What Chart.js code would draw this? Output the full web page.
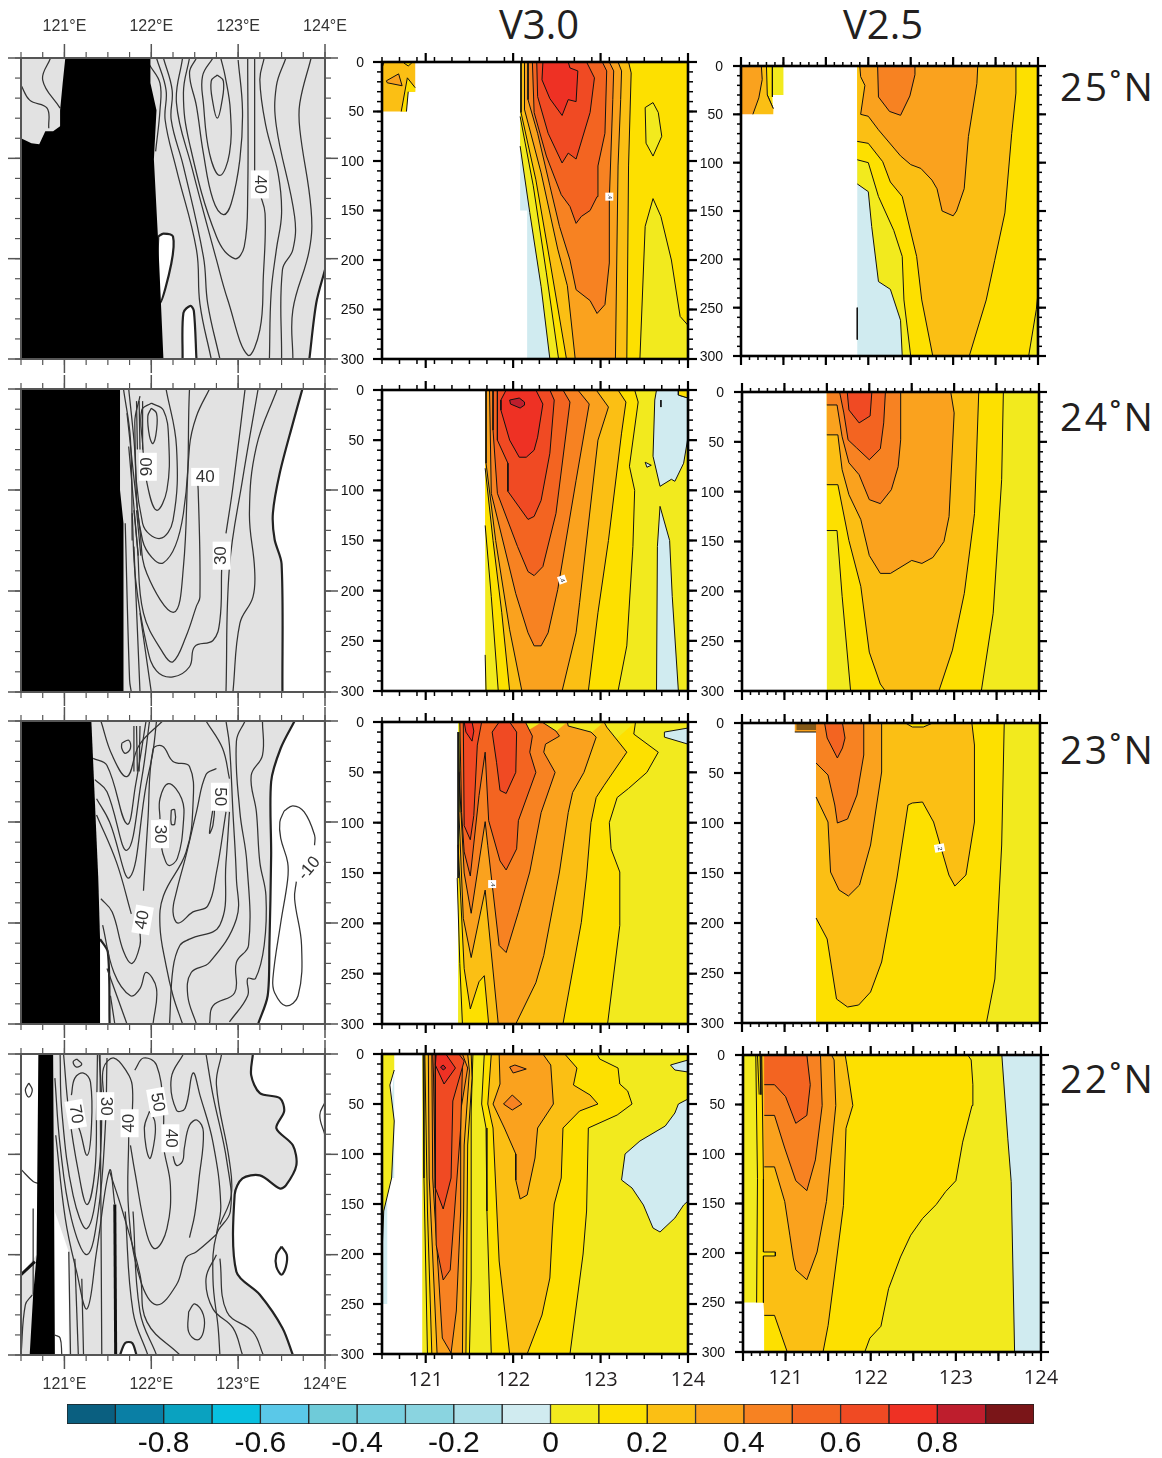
<!DOCTYPE html>
<html><head><meta charset="utf-8">
<script src="https://cdn.jsdelivr.net/npm/chart.js@4"></script>
<style>
html,body{margin:0;padding:0;background:#fff}
#page{position:relative;width:1162px;height:1458px;overflow:hidden;background:#fff}
canvas{position:absolute}
.t{position:absolute;font-family:"Open Sans",sans-serif;color:#231f20;white-space:nowrap;line-height:1}
</style></head><body><div id="page">
<div class="t" style="left:499px;top:4px;font-size:40px">V3.0</div>
<div class="t" style="left:843px;top:4px;font-size:40px">V2.5</div>
<div class="t" style="left:1060px;top:66px;font-size:39px;letter-spacing:2.4px">25˚N</div>
<div class="t" style="left:1060px;top:396px;font-size:39px;letter-spacing:2.4px">24˚N</div>
<div class="t" style="left:1060px;top:729px;font-size:39px;letter-spacing:2.4px">23˚N</div>
<div class="t" style="left:1060px;top:1058px;font-size:39px;letter-spacing:2.4px">22˚N</div>
</div>
<script>
// ---------- categories, ticks ----------
const depthLabels=[0,50,100,150,200,250,300];
const lonLabels=[121,122,123,124];
const colorbarLows=[-1,-.9,-.8,-.7,-.6,-.5,-.4,-.3,-.2,-.1,0,.1,.2,.3,.4,.5,.6,.7,.8,.9];
const colorbarTicks=[-.8,-.6,-.4,-.2,0,.2,.4,.6,.8];
const levelColors=['#0a5f80','#0a7fa5','#0aa2c0','#08c0e0','#5ac8e8','#6fcbd9','#78cfdf','#8ad4e0','#acdfe8','#d0ebf0','#f2ea1e','#fde000','#fbbf14','#faa21e','#f78222','#f36421','#f04a23','#ee3124','#be1e2d','#7a1518'];

// ---------- V3.0 sections: [contour level, lon,depth,...] (null = contour break) ----------
const V30_25N=[
[-.1,[122.08,85,null,122.08,150,null,122.16,150,null,122.16,300,null,124,300,124,0,null,122.08,0]],
[0,[122.08,85,122.19,152,122.32,227,122.42,300,null,124,300,124,0,null,122.08,0]],
[.1,[122.08,55,122.23,125,122.38,213,122.52,300,null,124,300,124,0,null,122.08,0]],
[.2,[122.09,0,122.09,51,122.26,119,122.43,206,122.61,300,null,123.3,300,123.32,105,123.35,11,123.32,0]],
[.3,[122.13,0,122.13,48,122.32,112,122.51,189,122.62,226,122.71,300,null,123.17,300,123.2,105,123.23,38,123.24,9,123.2,0]],
[.4,[122.17,0,122.17,38,122.28,72,122.42,125,122.53,166,122.65,200,122.72,230,122.88,241,122.96,254,123.05,245,123.1,203,123.1,139,123.14,38,123.15,9,123.1,0]],
[.5,[122.22,0,122.24,51,122.38,95,122.55,134,122.65,146,122.72,163,122.78,156,122.88,150,122.96,136,122.97,105,123.05,72,123.07,9,123.02,0]],
[.6,[122.27,0,122.28,35,122.4,72,122.56,102,122.63,92,122.72,98,122.88,51,122.93,16,122.84,0]],
[.7,[122.34,1,122.33,18,122.42,37,122.56,54,122.63,38,122.72,40,122.74,9,122.65,6,122.63,0]],
[0,[123.51,46,123.6,41,123.66,51,123.7,75,123.6,95,123.52,82,123.51,46]],
[0,[123.45,300,123.51,166,123.6,138,123.69,156,123.81,200,123.91,257,124,266,null,124,300]],
[.2,[120.5,0,null,120.88,0,null,120.88,30,null,120.8,30,null,120.78,50,null,120.5,50]],
[.1,[120.72,50,120.79,16,120.88,26,null,120.88,30,null,120.8,30,120.78,50]],
[.1,[120.5,6,120.52,1,null,120.5,0]],
[.1,[120.75,1,120.8,4,120.84,1]],
[.3,[120.55,19,120.69,12,120.73,24,120.56,21,120.55,19]]
];
const V30_24N=[
[0,[121.68,0,null,121.68,300,null,124,300,124,0]],
[.1,[121.68,135,121.75,206,121.83,300,null,123.2,300,123.3,255,123.37,156,123.39,100,123.33,76,123.43,12,123.39,0,null,121.68,0]],
[.2,[121.68,78,121.77,150,121.87,222,121.96,300,null,122.86,300,122.97,222,123.09,150,123.24,43,123.29,12,123.2,0,null,121.68,0]],
[.3,[121.69,0,121.69,73,121.8,150,121.96,239,122.1,300,null,122.56,300,122.72,242,122.76,212,122.97,50,123.09,17,122.95,0]],
[.4,[121.73,0,121.75,103,122.03,203,122.17,242,122.24,255,122.32,255,122.4,242,122.51,199,122.72,90,122.87,14,122.74,0]],
[.5,[121.77,0,121.77,40,121.82,103,122.05,156,122.17,181,122.24,185,122.34,176,122.49,123,122.65,12,122.57,0]],
[.6,[121.82,0,121.82,50,121.94,73,121.94,101,122.17,129,122.24,126,122.32,110,122.42,63,122.47,10,122.42,0]],
[.7,[121.92,0,121.86,10,121.86,20,121.96,50,122.07,67,122.15,67,122.24,60,122.28,47,122.34,14,122.26,0]],
[.8,[121.96,10,122.07,8,122.13,12,122.13,15,122.08,18,121.97,14,121.96,10]],
[-.1,[123.64,0,123.62,10,123.6,66,123.68,96,123.81,89,123.85,91,123.95,73,124,47,null,124,8,123.89,5,123.89,0]],
[-.1,[123.64,300,123.65,156,123.68,116,123.79,150,123.82,206,123.89,300]],
[-.1,[123.51,72,123.58,75,123.53,77,123.51,72]],
[.1,[123.89,0,123.89,5,124,8,124,0]],
[null,[123.69,10,123.69,17]],
[null,[121.68,264,121.69,300]]
];
const V30_23N=[
[0,[121.37,0,null,121.37,300,null,124,300,124,0]],
[-.1,[123.73,10,124,6,null,124,22,123.73,15,123.73,10]],
[.1,[121.36,155,121.39,240,121.42,300,null,123.08,300,123.22,202,123.22,149,123.12,126,123.1,100,123.19,75,123.32,66,123.53,50,123.66,30,123.38,12,123.4,0]],
[.2,[121.37,122,121.44,245,121.51,285,121.61,258,121.67,252,121.72,300,null,122.57,300,122.78,199,122.84,153,122.89,100,122.95,75,123.04,63,123.3,30,123.07,5,123.04,0]],
[.3,[121.38,90,121.43,195,121.52,234,121.68,167,121.83,300,null,122.03,300,122.26,259,122.35,232,122.53,149,122.63,90,122.68,70,122.81,50,122.95,15,122.89,10,122.63,4,122.62,0]],
[.4,[121.38,50,121.44,150,121.52,190,121.68,99,121.71,123,121.84,222,121.92,229,122.06,189,122.19,149,122.32,90,122.48,50,122.35,30,122.37,22,122.53,14,122.49,9,122.33,0]],
[.5,[121.39,0,121.41,90,121.44,129,121.51,153,121.61,73,121.68,30,121.72,98,121.85,138,121.92,147,122.04,126,122.06,98,122.26,50,122.19,30,122.22,14,122.14,0]],
[.6,[121.43,0,121.44,103,121.51,117,121.55,93,121.59,23,121.64,0]],
[.6,[121.84,0,121.76,10,121.81,40,121.85,68,121.92,71,122.03,50,122.04,10,121.96,0]],
[.7,[121.44,0,121.46,10,121.53,19,121.55,9,121.53,0]],
[null,[121.37,10,121.37,155]],
[null,[121.38,10,121.39,90]]
];
const V30_22N=[
[-.1,[120.64,16,null,120.64,124,null,120.56,124,null,120.56,250,null,120.5,250,null,120.5,150]],
[0,[120.5,0,null,120.64,0,null,120.64,16,120.59,31,120.64,67,120.61,124,120.52,157,120.5,200]],
[0,[120.96,0,null,120.96,300,null,124,300,124,0]],
[-.1,[123.28,100,123.45,87,123.74,72,123.85,59,123.89,50,124,45,null,124,147,123.95,151,123.85,164,123.68,178,123.6,174,123.49,151,123.36,134,123.24,126,123.28,100]],
[-.1,[123.8,11,124,6,null,124,18,123.85,16,123.8,11]],
[.1,[120.97,0,120.98,124,121.02,300,null,121.5,300,121.52,225,121.52,57,121.54,0]],
[.2,[120.99,0,121.02,157,121.07,300,null,121.46,300,121.48,91,121.53,24,121.52,0]],
[.3,[121.03,0,121.04,124,121.13,300,null,121.42,300,121.44,91,121.5,17,121.48,0]],
[.4,[121.07,0,121.08,124,121.19,284,121.29,299,121.35,257,121.4,157,121.4,57,121.48,14,121.42,0]],
[.5,[121.08,0,121.09,24,121.12,191,121.2,226,121.28,216,121.4,74,121.42,14,121.34,0]],
[.6,[121.11,0,121.11,134,121.2,155,121.29,124,121.31,47,121.44,7,121.38,0]],
[.7,[121.12,0,121.11,11,121.21,30,121.34,14,121.23,0]],
[.8,[121.17,13,121.2,11,121.23,14,121.2,16,121.17,13]],
[.1,[121.67,0,121.64,50,121.69,74,121.7,157,121.75,300,null,122.65,300,122.8,200,122.84,157,122.86,74,123.19,61,123.36,50,123.31,37,123.22,30,123.2,14,122.99,5,122.96,0]],
[.2,[121.75,0,121.71,50,121.77,74,121.84,207,121.96,300,null,122.16,300,122.33,261,122.42,224,122.45,174,122.47,150,122.55,124,122.57,74,122.76,57,122.97,50,122.88,41,122.69,31,122.73,14,122.59,0]],
[.3,[121.84,0,121.85,30,121.77,50,121.9,74,122.03,100,122.03,126,122.08,145,122.16,141,122.25,104,122.28,74,122.46,50,122.43,11,122.34,0]],
[.4,[121.96,13,122.02,11,122.15,15,122,19,121.96,13]],
[.4,[121.89,50,121.99,41,122.1,50,121.99,56,121.89,50]]
];

// ---------- V2.5 sections ----------
const V25_25N=[
[-.1,[121.87,122,null,121.87,300,null,124,300,124,0,null,121.87,0]],
[0,[121.87,122,122,130,122.04,166,122.12,223,122.26,231,122.38,263,122.4,300,null,124,300,124,0,null,121.87,0]],
[.1,[121.87,97,122,100,122.12,135,122.3,170,122.4,197,122.42,242,122.5,300,null,124,300,124,0,null,121.87,0]],
[0,[123.89,300,123.98,252,124,235,null,124,300]],
[.2,[121.87,78,122,80,122.17,99,122.26,120,122.4,135,122.57,197,122.63,242,122.76,300,null,123.19,300,123.39,242,123.49,201,123.61,152,123.69,70,123.74,28,123.74,0,null,121.87,0]],
[.3,[121.9,0,121.91,11,121.96,20,121.91,50,122,52,122.12,66,122.38,93,122.5,102,122.62,106,122.75,118,122.81,127,122.87,150,123,155,123.04,150,123.13,127,123.18,73,123.28,18,123.29,0]],
[.4,[122.11,0,122.12,32,122.25,47,122.38,51,122.49,31,122.55,9,122.55,0]],
[0,[120.87,0,null,121,0,null,121,30,null,120.87,30]],
[.1,[120.8,0,null,120.87,0,120.87,32,null,120.88,50,null,120.88,44,120.81,30]],
[.2,[120.74,0,null,120.8,0,120.81,30,120.88,44,null,120.88,50,null,120.64,50]],
[.3,[120.74,0,120.75,14,120.71,33,120.64,50,null,120.5,50,null,120.5,0]],
[null,[121.87,250,121.87,283]]
];
const V25_24N=[
[0,[121.5,0,null,121.5,300,null,124,300,124,0]],
[.1,[121.5,139,121.62,139,121.68,205,121.78,300,null,123.32,300,123.46,222,123.56,88,123.58,0,null,121.5,0]],
[.2,[121.5,93,121.63,93,121.76,149,121.9,195,122,261,122.13,293,122.19,300,null,122.82,300,122.98,259,123.12,202,123.24,122,123.29,0,null,121.5,0]],
[.3,[121.5,43,121.63,43,121.68,78,121.76,103,121.9,128,122,164,122.13,182,122.25,182,122.5,169,122.62,172,122.75,166,122.88,150,122.94,125,123,21,122.96,0,null,121.5,0]],
[.4,[121.5,13,121.62,13,121.68,45,121.76,71,121.88,83,122,108,122.13,112,122.26,98,122.34,75,122.37,48,122.37,0,null,121.5,0]],
[.5,[121.65,0,121.7,21,121.75,48,121.85,56,122,68,122.13,57,122.17,31,122.19,0]],
[.6,[121.74,0,121.76,18,121.88,31,122.01,24,122.03,0]]
];
const V25_23N=[
[0,[121.37,0,null,121.37,300,null,124,300,124,0]],
[.1,[121.37,0,null,121.37,300,null,123.37,300,123.47,256,123.55,122,123.58,0]],
[.2,[121.37,195,121.5,216,121.61,276,121.74,284,121.87,282,122.01,269,122.14,239,122.32,155,122.45,82,122.5,80,122.62,79,122.75,99,122.93,152,123,163,123.13,152,123.23,99,123.23,22,123.2,0,null,122.74,0,122.63,4,122.5,4,122.42,0,null,121.37,0]],
[.3,[121.37,74,121.51,99,121.54,149,121.64,167,121.75,173,121.88,162,122.01,122,122.14,49,122.14,0,null,121.37,0]],
[.4,[121.37,40,121.51,52,121.59,82,121.62,100,121.74,96,121.85,72,121.93,32,121.93,0,null,121.37,0]],
[.5,[121.47,0,121.5,15,121.62,35,121.68,25,121.71,15,121.68,0]],
[.3,[121.12,9,121.37,9,null,121.37,0,null,121.12,0]],
[null,[121.14,2,121.37,2]],[null,[121.14,4,121.37,4]],[null,[121.14,6,121.37,6]]
];
const V25_22N=[
[0,[120.5,0,null,120.5,250,null,120.75,250,null,120.75,300,null,124,300,124,0]],
[-.1,[123.54,0,123.61,84,123.65,128,123.69,300,null,124,300,124,0]],
[.1,[120.65,0,120.67,125,120.66,250,null,120.75,250,null,120.75,300,null,121.93,300,121.99,286,122.12,274,122.21,236,122.35,204,122.47,182,122.61,165,122.77,151,122.88,138,123,127,123.08,88,123.19,51,123.2,30,123.18,5,123.14,0]],
[.2,[120.72,0,120.74,125,120.74,199,120.88,199,120.88,203,120.74,203,120.74,250,null,120.75,263,120.87,263,121.02,300,null,121.44,300,121.5,273,121.68,152,121.71,74,121.79,51,121.72,10,121.7,0]],
[.3,[120.75,113,120.87,113,120.99,148,121.05,182,121.09,205,121.12,217,121.25,227,121.37,199,121.48,148,121.59,51,121.57,5,121.54,0,null,120.75,0]],
[.4,[120.75,61,120.87,61,120.99,94,121.12,127,121.25,137,121.35,106,121.43,51,121.41,0,null,120.75,0]],
[.5,[120.75,30,120.87,30,121,42,121.12,69,121.25,61,121.29,30,121.25,0,null,120.75,0]],
[null,[120.67,0,120.69,40]],[null,[120.7,0,120.71,40]]
];

// ---------- observed sections (left column) ----------
const OBS_25N_land=[121.01,0,120.98,25,120.95,52,120.95,68,120.87,73,120.78,73,120.71,86,120.62,85,120.5,80,120.5,300,122.14,300,122.08,184,122.03,101,122.06,52,121.99,25,121.99,0];
const OBS_25N_white=[[122.08,178,122.14,175,122.25,178,122.23,205,122.1,244,122.07,205,122.08,178],[122.36,300,122.37,254,122.45,247,122.49,252,122.52,300],[123.82,300,123.9,244,124,211,null,124,300]];
const OBS_25N_lines=[
[120.5,27,120.6,42,120.8,50,120.82,70],[120.84,0,120.75,22,120.95,50],[121.98,7,122.1,25,122.1,52,122.05,93],
[122.06,0,122.17,32,122.16,62,122.29,111,122.52,191,122.56,245,122.69,300],
[122.14,0,122.24,32,122.23,62,122.37,108,122.6,198,122.65,245,122.79,300],
[122.76,17,122.69,23,122.71,45,122.76,60,122.81,45,122.83,23,122.76,17],
[122.71,0,122.59,18,122.6,45,122.67,95,122.79,117,122.9,95,122.91,52,122.85,18,122.8,0],
[122.52,0,122.44,15,122.52,48,122.6,95,122.71,141,122.83,156,122.92,145,123.02,101,123.05,52,123,2],
[122.44,0,122.37,35,122.44,85,122.75,178,122.96,200,123.07,188,123.11,135,123.11,0],
[122.36,0,122.29,45,122.47,110,122.75,201,122.88,241,123.11,296,123.25,271,123.29,218,123.31,155,123.25,135],
[123.19,115,123.19,0],
[123.3,0,123.25,22,123.32,68,123.46,115,123.5,155,123.44,191,123.38,234,123.36,300],
[123.55,0,123.44,28,123.44,68,123.65,158,123.63,191,123.51,211,123.5,300],
[123.84,0,123.71,45,123.71,71,123.84,151,123.82,191,123.63,251,123.63,300]
];
const OBS_25N_labels=[['40',123.25,126,90]];
const OBS_24N_land=[120.5,0,121.64,0,121.64,100,121.68,133,121.68,300,120.5,300];
const OBS_24N_white=[[123.74,0,123.63,34,123.48,83,123.4,123,123.42,149,123.5,173,123.51,300,null,124,300,124,0]];
const OBS_24N_lines=[
[122,19,121.96,27,121.98,47,122.02,54,122.06,41,122.06,24,122,19],
[122,14,121.89,21,121.9,54,121.95,93,122.06,120,122.18,100,122.2,50,122.14,21,122,14],
[121.87,7,121.81,34,121.9,133,122.1,148,122.25,130,122.29,57,122.17,0],
[121.74,0,121.8,50,121.9,150,122.14,172,122.37,123,122.44,0],
[121.72,24,121.87,140,121.95,183,122.26,221,122.37,176,122.44,57,122.52,27,122.67,0],
[121.74,57,121.84,156,121.91,222,122.14,262,122.25,270,122.4,245,122.52,215,122.56,206,122.54,100,122.52,85],
[121.78,123,121.82,189,121.95,255,122.06,279,122.25,285,122.44,275,122.5,255,122.71,249,122.79,229,122.81,179],
[122.86,143,122.94,97,123.08,0],
[121.7,133,121.75,288,121.77,300],[121.8,156,121.87,300],[121.87,222,122,300],
[123.23,0,123.05,90,122.9,176,122.86,300],
[123.45,0,123.21,57,123.13,123,123.19,179,123.17,206,123.02,232,122.94,300],
[121.68,0,121.76,50,121.78,150],[121.83,12,121.84,60],[121.86,12,121.87,60],[121.9,12,121.9,60],[121.8,120,121.85,165],[121.83,120,121.88,165]
];
const OBS_24N_labels=[['90',121.96,77,-90],['40',122.62,87,0],['30',122.81,165,-90]];
const OBS_23N_land=[120.5,0,121.31,0,121.39,156,121.41,216,121.41,300,120.5,300];
const OBS_23N_white=[[123.65,0,123.49,27,123.38,60,123.38,133,123.36,222,123.34,272,123.23,300,null,124,300,124,0],[121.41,216,121.5,229,121.52,300,null,121.41,300]];
const OBS_23N_lines=[
[123.53,89,123.63,84,123.76,90,123.88,113,123.88,123],[123.67,159,123.65,176,123.73,222,123.69,272,123.55,282,123.42,269,123.4,255,123.49,200,123.57,157,123.57,140,123.49,116,123.48,100,123.53,89],
[121.42,0,121.55,34,121.72,55,121.86,24,122.13,0],
[121.33,37,121.49,44,121.72,102,121.82,63,121.94,0],
[121.35,58,121.49,70,121.72,128,121.89,57,121.98,0],
[121.37,77,121.52,100,121.75,155,121.94,64,122.02,30,122.06,0],
[121.37,93,121.6,140,121.77,191],
[121.91,168,121.96,100,122.02,28,122.13,25,122.25,40,122.44,45,122.48,83,122.4,130,122.14,173,122.1,203,122.17,242,122.25,272,122.36,300],
[122.1,97,122.1,77,122.2,62,122.35,77,122.37,100,122.3,136,122.2,143,122.14,133,122.12,126],
[122.23,88,122.27,88,122.27,102,122.23,102,122.23,88],
[121.66,22,121.74,19,121.76,27,121.7,32,121.66,27,121.66,22],
[121.42,176,121.55,189,121.68,228,121.78,240,121.87,222,121.87,209],
[121.44,202,121.57,249,121.76,272,121.87,265,121.94,249,122.06,265,122.02,300],
[121.49,245,121.72,300],[121.53,272,121.58,300],
[122.75,47,122.63,53,122.52,90,122.4,133,122.29,169,122.25,189,122.31,200,122.48,189,122.65,183,122.75,150,122.86,90],
[122.63,0,122.82,27,122.9,57],[122.9,90,122.86,140,122.79,202,122.44,216,122.33,222,122.25,245,122.21,300],
[122.86,0,122.9,24,122.94,90,122.98,156,122.98,196,122.67,239,122.46,249,122.42,272,122.52,300],
[123.08,0,122.98,20,123.02,90,123.1,140,123.12,222,122.98,239,122.96,269,122.71,282,122.67,300],
[123.28,0,123.28,34,123.15,54,123.21,90,123.25,140,123.32,173,123.3,222,123.2,255,123.11,255,123.11,272,122.9,298],
[122.71,87,122.73,83,122.71,103,122.67,111,122.71,87],
[121.8,5,121.8,50],[121.83,5,121.84,50],[121.87,5,121.86,50]
];
const OBS_23N_labels=[['30',122.1,112,90],['50',122.79,75,90],['40',121.9,197,-80],['-10',123.82,146,-50]];
const OBS_22N_land=[120.7,0,120.87,0,120.89,300,120.6,300,120.64,240,120.68,200];
const OBS_22N_white=[
[123.17,0,123.15,21,123.25,39,123.48,44,123.53,57,123.44,74,123.63,91,123.67,111,123.55,131,123.48,134,123.25,121,123.05,124,122.96,140,122.98,217,123.25,240,123.51,273,123.63,300,null,124,300,124,0],
[120.89,157,null,121.05,197,null,121.05,300,null,120.89,300],
[120.5,0,null,120.7,0,null,120.68,200,null,120.5,220],
[121.64,300,121.7,288,121.78,288,121.83,300],
[123.5,192,123.56,200,123.55,212,123.5,220,123.44,212,123.44,200,123.5,192]
];
const OBS_22N_lines=[
[120.59,29,120.63,36,120.59,43,120.55,36,120.59,29],[124,48,123.94,61,124,81],
[121.14,5,121.2,10,121.14,13,121.1,8,121.14,5],
[121.08,41,121.12,24,121.22,19,121.3,28,121.31,74,121.26,101,121.18,77,121.12,64],
[120.99,0,121.05,57,121.16,117,121.26,150,121.35,117,121.37,57,121.38,0],
[120.95,0,120.97,57,121.1,141,121.26,174,121.39,124,121.43,57,121.4,0],
[120.89,24,120.95,91,121.08,164,121.26,200,121.39,157,121.47,74,121.49,4],
[120.9,81,121.01,164,121.14,217,121.26,254,121.37,197,121.52,116,121.58,150],
[121.05,197,121.07,300],[121.12,204,121.16,300],[121.2,224,121.22,300],[121.41,0,121.43,300],
[121.45,41,121.45,14,121.57,4,121.72,18,121.78,31,121.78,64],
[121.74,81,121.74,157,121.87,224,122.06,250,122.29,230,122.4,203,122.52,197,122.75,180],
[121.52,117,121.67,157,121.87,220,121.95,267,122.33,300],
[121.81,16,121.91,4,122.06,11,122.14,57,122.14,91,122.22,131,122.18,174,122.05,194,121.95,180,121.81,117,121.76,91],
[121.98,57,121.92,74,121.98,104,122.04,84,122.04,67,121.98,57],
[122.37,0,122.23,24,122.29,56,122.39,54,122.48,19,122.56,41,122.71,88,122.8,151,122.75,180],
[122.25,102,122.29,111,122.36,107,122.38,94,122.44,71,122.53,66,122.6,78,122.55,124,122.5,160,122.44,183],
[122.63,0,122.71,41,122.87,107,122.91,157,122.75,180,122.71,224,122.77,273,122.79,300],
[122.81,0,122.75,31,122.9,107,122.92,141,122.79,170],
[122.75,200,122.63,224,122.71,254,122.94,273,123.05,300],
[122.79,204,122.87,257,123.17,277,123.29,300],
[122.43,257,122.5,249,122.6,260,122.6,277,122.53,285,122.43,277,122.43,257],
[121.79,157,121.87,257,122.06,300],[121.7,157,121.79,257,121.96,300],
[120.64,154,120.64,240],[120.5,115,120.64,127,120.7,129],[120.5,300,120.55,250,120.63,240],[120.89,280,120.95,283,120.97,300]
];
const OBS_22N_thick=[[120.5,220,120.66,207],[121.58,150,121.59,300]];
const OBS_22N_labels=[['70',121.13,60,80],['30',121.47,52,90],['40',121.75,69,-90],['50',122.07,48,80],['40',122.22,84,90]];

// contour inline labels in the model sections
const V30_25N_labels=[['.4',123.1,136,90]];
const V30_24N_labels=[['.4',122.56,189,70]];
const V30_23N_labels=[['.4',121.76,161,90]];
const V25_23N_labels=[['.2',122.82,125,80]];

// ---------- rendering ----------
const page=document.getElementById('page');
function toPts(f){const o=[];for(let i=0;i<f.length;){if(f[i]===null){o.push({x:null,y:null});i++;}else{o.push({x:f[i],y:f[i+1]});i+=2;}}return o;}
function bandColor(l){return levelColors[Math.round(l*10)+10];}

const areaFill={id:'areaFill',beforeDatasetDraw(chart,args){
  const ds=chart.data.datasets[args.index]; if(!ds.areaColor) return;
  const meta=args.meta,c=chart.ctx,a=chart.chartArea;
  if(ds.tension>0)meta.dataset.updateControlPoints(a);
  c.save();c.beginPath();c.rect(a.left,a.top,a.width,a.height);c.clip();
  c.beginPath();let first=true,prev=null;
  for(const el of meta.data){
    if(el.skip){prev=null;continue;}
    if(first){c.moveTo(el.x,el.y);first=false;}
    else if(prev&&ds.tension>0)c.bezierCurveTo(prev.cp2x,prev.cp2y,el.cp1x,el.cp1y,el.x,el.y);
    else c.lineTo(el.x,el.y);
    prev=el;
  }
  c.closePath();c.fillStyle=ds.areaColor;c.fill();c.restore();
}};
const frameTicks={id:'frameTicks',afterDraw(chart,_,o){
  const {x,y}=chart.scales,c=chart.ctx,a=chart.chartArea;
  for(const [t,lon,d,rot] of o.labels){
    const X=x.getPixelForValue(lon),Y=y.getPixelForValue(d);
    c.save();c.translate(X,Y);c.rotate(rot*Math.PI/180);
    c.fillStyle='#fff';c.fillRect(-o.labW/2,-o.labH/2,o.labW,o.labH);
    c.fillStyle=o.labColor;c.font=o.labFont;c.textAlign='center';c.textBaseline='middle';c.fillText(t,0,0);c.restore();
  }
  c.save();c.strokeStyle=o.color;
  const line=(x1,y1,x2,y2,w)=>{c.lineWidth=w;c.beginPath();c.moveTo(x1,y1);c.lineTo(x2,y2);c.stroke();};
  const run=(from,to,step,fn)=>{for(let v=from;v<=to+1e-6;v+=step)fn(+v.toFixed(3));};
  run(120.5,124,o.xMinor,v=>{const X=x.getPixelForValue(v);line(X,a.top,X,a.top-o.minLen,o.minW);line(X,a.bottom,X,a.bottom+o.minLen,o.minW);});
  for(let v=o.xFrom;v<=124+1e-6;v+=o.xMajor){const X=x.getPixelForValue(v);line(X,a.top,X,a.top-o.majLen,o.majW);line(X,a.bottom,X,a.bottom+o.majLen,o.majW);}
  run(0,300,o.yMinor,v=>{const Y=y.getPixelForValue(v);line(a.left,Y,a.left-o.minLen,Y,o.minW);line(a.right,Y,a.right+o.minLen,Y,o.minW);});
  run(0,300,o.yMajor,v=>{const Y=y.getPixelForValue(v);line(a.left,Y,a.left-o.majLenY,Y,o.majW);line(a.right,Y,a.right+o.majLenY,Y,o.majW);});
  c.lineWidth=o.frameW;c.strokeRect(a.left,a.top,a.width,a.height);
  c.restore();
}};

function panel(f,datasets,opt){
  const cv=document.createElement('canvas');
  const ml=opt.ml,mr=26,mt=opt.mt||36,mb=44,w=f.r-f.l,h=f.b-f.t;
  cv.width=w+ml+mr;cv.height=h+mt+mb;
  cv.style.left=(f.l-ml)+'px';cv.style.top=(f.t-mt)+'px';
  if(opt.blur)cv.style.filter='blur(0.45px)';
  page.appendChild(cv);
  datasets.forEach((d,i)=>{d.order=datasets.length-i;d.showLine=true;d.pointRadius=0;d.tension=d.tension||0;d.fill=false;d.borderJoinStyle='round';});
  const top=opt.xPos==='top';
  new Chart(cv,{type:'scatter',data:{datasets},plugins:[areaFill,frameTicks],options:{
    responsive:false,animation:false,events:[],
    layout:{padding:{top:top?0:mt,bottom:top?mb:0,left:0,right:mr}},
    plugins:{legend:{display:false},tooltip:{enabled:false},frameTicks:opt.frame},
    scales:{
      x:{type:'linear',position:top?'top':'bottom',min:120.5,max:124,grid:{display:false,drawTicks:false},border:{display:false},
        afterBuildTicks:s=>{s.ticks=lonLabels.map(v=>({value:v}));},
        afterFit:s=>{s.height=top?mt:mb;s.paddingLeft=0;s.paddingRight=0;},
        ticks:{display:opt.xLabels,autoSkip:false,maxRotation:0,minRotation:0,padding:opt.xPad,color:opt.xColor,font:opt.xFont,callback:v=>v+opt.xSuffix}},
      y:{type:'linear',reverse:true,min:0,max:300,grid:{display:false,drawTicks:false},border:{display:false},
        afterBuildTicks:s=>{s.ticks=depthLabels.map(v=>({value:v}));},
        afterFit:s=>{s.width=ml;s.paddingTop=0;s.paddingBottom=0;},
        ticks:{display:opt.yLabels,autoSkip:false,padding:18,labelOffset:1,color:'#111',font:{family:'Liberation Sans',size:14},callback:v=>v}}
    }}});
}
function modelSets(list){return list.map(([lev,flat])=>({data:toPts(flat),areaColor:lev===null?null:bandColor(lev),borderColor:'#111',borderWidth:1}));}
function obsSets(land,white,lines,thick){
  const out=[{data:toPts([120.5,0,120.5,300,124,300,124,0]),areaColor:'#e2e2e2',borderWidth:0}];
  white.forEach(p=>out.push({data:toPts(p),areaColor:'#ffffff',borderColor:'#222',borderWidth:2.2,tension:.3}));
  lines.forEach(p=>out.push({data:toPts(p),borderColor:'#333',borderWidth:1.25,tension:.4}));
  (thick||[]).forEach(p=>out.push({data:toPts(p),borderColor:'#111',borderWidth:3}));
  out.push({data:toPts(land),areaColor:'#000',borderWidth:0});
  return out;
}
const obsFrame={color:'#555',frameW:2,majW:1.5,minW:1.2,majLen:14,majLenY:13,minLen:6,xMinor:.25,xMajor:1,xFrom:121,yMinor:20,yMajor:100,labW:28,labH:18,labFont:'17px "Liberation Sans"',labColor:'#333'};
const midFrame={color:'#000',frameW:2.6,majW:2.2,minW:1.5,majLen:9,majLenY:9,minLen:5,xMinor:.2,xMajor:1,xFrom:121,yMinor:10,yMajor:50,labW:8,labH:8,labFont:'6px "Liberation Sans"',labColor:'#222'};
const rightFrame={color:'#000',frameW:2.6,majW:2.2,minW:1.5,majLen:9,majLenY:8,minLen:4,xMinor:.1,xMajor:.5,xFrom:120.5,yMinor:10,yMajor:50,labW:8,labH:10,labFont:'6px "Liberation Sans"',labColor:'#222'};
function leftOpt(row,labels){return {ml:20,mt:row===0?52:36,blur:true,xPos:row===0?'top':'bottom',xLabels:row===0||row===3,yLabels:false,xPad:row===0?22:20,xSuffix:'°E',xColor:'#333',xFont:{family:'Liberation Sans',size:16},frame:Object.assign({labels},obsFrame)};}
function midOpt(row,labels){return {ml:46,xPos:'bottom',xLabels:row===3,yLabels:true,xPad:14,xSuffix:'',xColor:'#231f20',xFont:{family:'Open Sans',size:20},frame:Object.assign({labels},midFrame)};}
function rightOpt(row,labels){return {ml:46,xPos:'bottom',xLabels:row===3,yLabels:true,xPad:14,xSuffix:'',xColor:'#231f20',xFont:{family:'Open Sans',size:20},frame:Object.assign({labels},rightFrame)};}

const frL=[[58,359],[389,692],[721,1024],[1054,1355]];
const frM=[[62,359],[390,691],[722,1024],[1054,1354]];
const frR=[[66,356,741,1038],[392,691,742,1039],[723,1023,742,1040],[1055,1352,743,1041]];
const obs=[[OBS_25N_land,OBS_25N_white,OBS_25N_lines,null,OBS_25N_labels],[OBS_24N_land,OBS_24N_white,OBS_24N_lines,null,OBS_24N_labels],[OBS_23N_land,OBS_23N_white,OBS_23N_lines,null,OBS_23N_labels],[OBS_22N_land,OBS_22N_white,OBS_22N_lines,OBS_22N_thick,OBS_22N_labels]];
const v30=[[V30_25N,V30_25N_labels],[V30_24N,V30_24N_labels],[V30_23N,V30_23N_labels],[V30_22N,[]]];
const v25=[[V25_25N,[]],[V25_24N,[]],[V25_23N,V25_23N_labels],[V25_22N,[]]];
for(let r=0;r<4;r++){
  const o=obs[r];
  panel({l:21,r:325,t:frL[r][0],b:frL[r][1]},obsSets(o[0],o[1],o[2],o[3]),leftOpt(r,o[4]));
  panel({l:382,r:688,t:frM[r][0],b:frM[r][1]},modelSets(v30[r][0]),midOpt(r,v30[r][1]));
  panel({l:frR[r][2],r:frR[r][3],t:frR[r][0],b:frR[r][1]},modelSets(v25[r][0]),rightOpt(r,v25[r][1]));
}

// ---------- colour bar ----------
(function(){
  const cv=document.createElement('canvas');cv.width=1047;cv.height=63;
  cv.style.left='27px';cv.style.top='1395px';page.appendChild(cv);
  new Chart(cv,{type:'bar',data:{labels:['scale'],datasets:colorbarLows.map((lo,i)=>({data:[[lo,+(lo+.1).toFixed(1)]],backgroundColor:levelColors[i],borderColor:'#222',borderWidth:1,borderSkipped:false,grouped:false,barPercentage:1,categoryPercentage:1}))},
    options:{indexAxis:'y',responsive:false,animation:false,events:[],
      layout:{padding:{left:40,right:40,top:9,bottom:0}},
      plugins:{legend:{display:false},tooltip:{enabled:false}},
      scales:{
        y:{display:false,grid:{display:false}},
        x:{type:'linear',min:-1,max:1,grid:{display:false,drawTicks:false},border:{display:false},
          afterBuildTicks:s=>{s.ticks=colorbarTicks.map(v=>({value:v}));},
          afterFit:s=>{s.height=34;s.paddingLeft=0;s.paddingRight=0;},
          ticks:{autoSkip:false,maxRotation:0,padding:2,color:'#111',font:{family:'Liberation Sans',size:30},callback:v=>v===0?'0':v.toFixed(1)}}
      }}});
})();
</script></body></html>
